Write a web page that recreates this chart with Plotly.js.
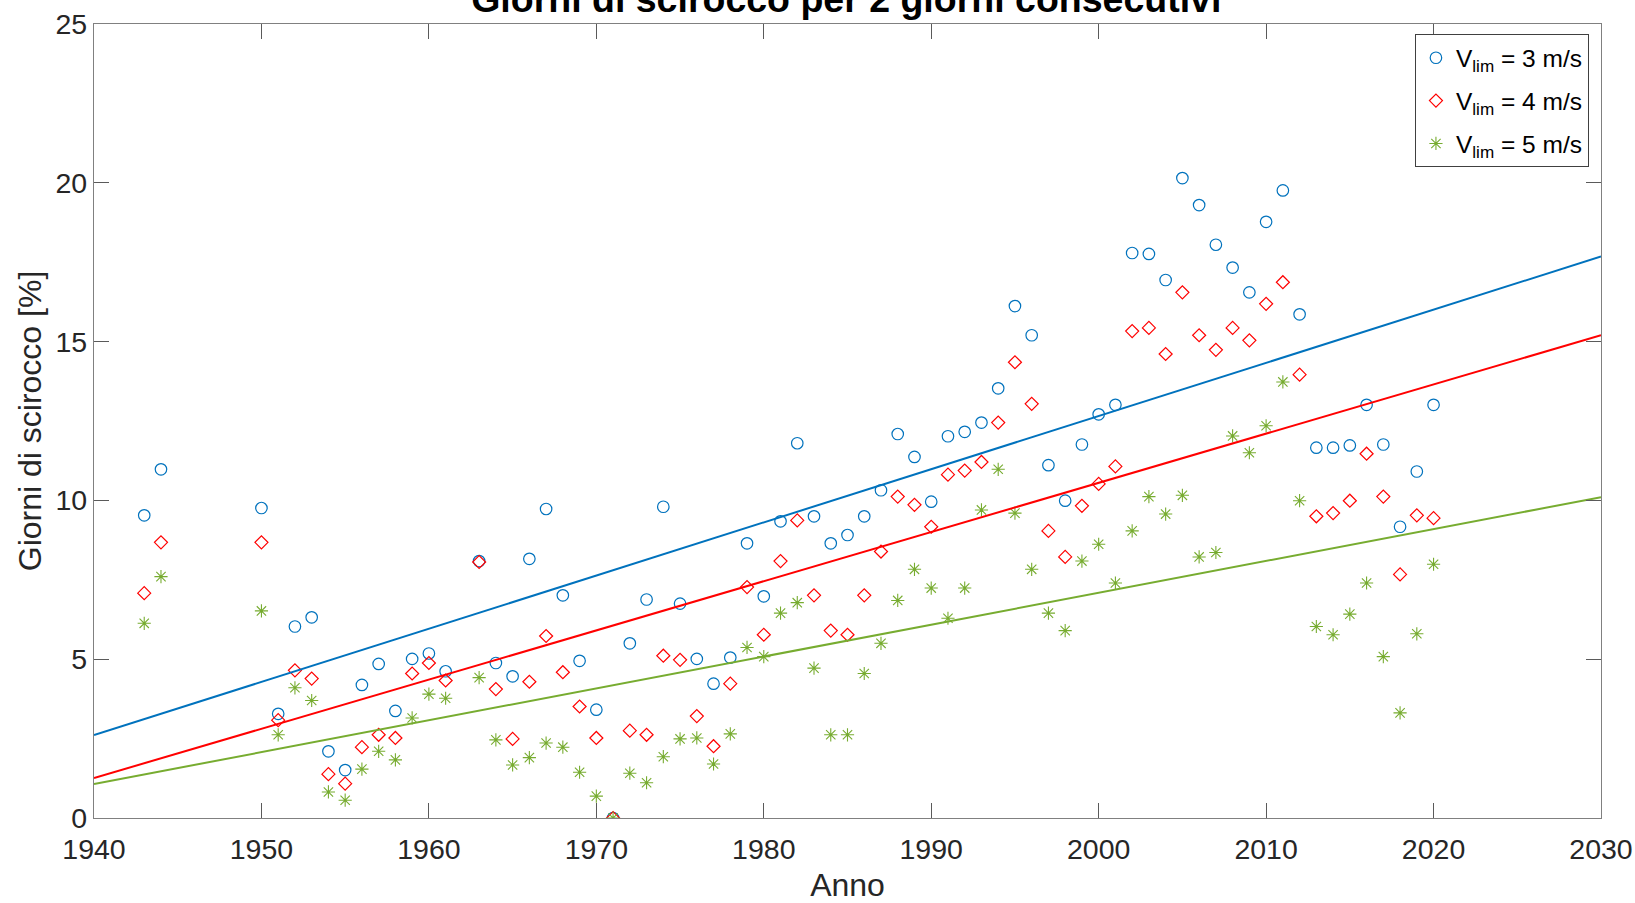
<!DOCTYPE html>
<html>
<head>
<meta charset="utf-8">
<script src="https://cdn.plot.ly/plotly-3.0.1.min.js"></script>
<style>
  html, body { margin: 0; padding: 0; background: #ffffff; }
  #chart { width: 1635px; height: 903px; }
</style>
</head>
<body>
<div id="chart"></div>
<script>
// Anni di osservazione (1945-1949 e 1962 mancanti)
const years = [1943, 1944,
  1950, 1951, 1952, 1953, 1954, 1955, 1956, 1957, 1958, 1959, 1960, 1961,
  1963, 1964, 1965, 1966, 1967, 1968, 1969, 1970, 1971, 1972, 1973, 1974,
  1975, 1976, 1977, 1978, 1979, 1980, 1981, 1982, 1983, 1984, 1985, 1986,
  1987, 1988, 1989, 1990, 1991, 1992, 1993, 1994, 1995, 1996, 1997, 1998,
  1999, 2000, 2001, 2002, 2003, 2004, 2005, 2006, 2007, 2008, 2009, 2010,
  2011, 2012, 2013, 2014, 2015, 2016, 2017, 2018, 2019, 2020];

// Giorni di scirocco [%] per soglia di velocità
const vlim3 = [9.53, 10.98,
  9.76, 3.28, 6.03, 6.32, 2.10, 1.51, 4.19, 4.85, 3.37, 5.01, 5.18, 4.62,
  8.09, 4.88, 4.46, 8.16, 9.73, 7.01, 4.95, 3.41, 0.00, 5.50, 6.88, 9.80,
  6.75, 5.01, 4.23, 5.05, 8.65, 6.98, 9.34, 11.80, 9.50, 8.65, 8.91, 9.50,
  10.32, 12.09, 11.37, 9.96, 12.02, 12.16, 12.45, 13.53, 16.12, 15.20, 11.11, 9.99,
  11.76, 12.71, 13.01, 17.79, 17.76, 16.94, 20.15, 19.30, 18.05, 17.33, 16.55, 18.77,
  19.76, 15.86, 11.66, 11.66, 11.73, 13.01, 11.76, 9.17, 10.91, 13.01];

const vlim4 = [7.08, 8.68,
  8.68, 3.08, 4.65, 4.39, 1.38, 1.08, 2.23, 2.62, 2.52, 4.55, 4.88, 4.33,
  8.06, 4.06, 2.49, 4.29, 5.73, 4.59, 3.51, 2.52, 0.00, 2.75, 2.62, 5.11,
  4.98, 3.21, 2.26, 4.23, 7.27, 5.77, 8.09, 9.37, 7.01, 5.90, 5.77, 7.01,
  8.39, 10.12, 9.86, 9.17, 10.81, 10.94, 11.21, 12.45, 14.35, 13.04, 9.04, 8.22,
  9.83, 10.52, 11.07, 15.33, 15.43, 14.61, 16.55, 15.20, 14.74, 15.43, 15.04, 16.19,
  16.87, 13.96, 9.50, 9.60, 9.99, 11.47, 10.12, 7.67, 9.53, 9.44];

const vlim5 = [6.13, 7.60,
  6.52, 2.62, 4.10, 3.70, 0.82, 0.56, 1.54, 2.10, 1.83, 3.15, 3.90, 3.77,
  4.42, 2.46, 1.67, 1.90, 2.36, 2.23, 1.44, 0.69, 0.00, 1.41, 1.11, 1.93,
  2.49, 2.52, 1.70, 2.65, 5.37, 5.08, 6.45, 6.78, 4.72, 2.62, 2.62, 4.55,
  5.50, 6.85, 7.83, 7.24, 6.29, 7.24, 9.70, 10.98, 9.60, 7.83, 6.45, 5.90,
  8.09, 8.62, 7.40, 9.04, 10.12, 9.57, 10.16, 8.22, 8.36, 12.03, 11.50, 12.35,
  13.73, 9.99, 6.03, 5.77, 6.42, 7.40, 5.08, 3.31, 5.80, 7.99];

// Rette di tendenza (valori agli estremi dell'asse)
const trendYears = [1940, 2030];
const trend3 = [2.61, 17.68];
const trend4 = [1.26, 15.20];
const trend5 = [1.07, 10.10];

const xTicks = [1940, 1950, 1960, 1970, 1980, 1990, 2000, 2010, 2020, 2030];
const yTicks = [0, 5, 10, 15, 20, 25];

const BLUE = '#0072BD', RED = '#FF0000', GREEN = '#77AC30';
const FONT = 'Liberation Sans, Arial, Helvetica, sans-serif';

const traces = [
  { x: years, y: vlim3, type: 'scatter', mode: 'markers', name: 'V<sub>lim</sub> = 3 m/s',
    legendgroup: 'a',
    marker: { symbol: 'circle-open', size: 11.5, color: BLUE, line: { width: 1.2, color: BLUE } } },
  { x: years, y: vlim4, type: 'scatter', mode: 'markers', name: 'V<sub>lim</sub> = 4 m/s',
    legendgroup: 'b',
    marker: { symbol: 'diamond-open', size: 10, color: RED, line: { width: 1.2, color: RED } } },
  { x: years, y: vlim5, type: 'scatter', mode: 'markers', name: 'V<sub>lim</sub> = 5 m/s',
    legendgroup: 'c',
    marker: { symbol: 'asterisk-open', size: 11, color: GREEN, line: { width: 1.1, color: GREEN } } },
  { x: trendYears, y: trend3, type: 'scatter', mode: 'lines', showlegend: false,
    line: { color: BLUE, width: 2 }, hoverinfo: 'skip' },
  { x: trendYears, y: trend4, type: 'scatter', mode: 'lines', showlegend: false,
    line: { color: RED, width: 2 }, hoverinfo: 'skip' },
  { x: trendYears, y: trend5, type: 'scatter', mode: 'lines', showlegend: false,
    line: { color: GREEN, width: 2 }, hoverinfo: 'skip' }
];

const axisCommon = {
  showgrid: false,
  zeroline: false,
  showline: true,
  linecolor: '#808080',
  linewidth: 1.2,
  mirror: 'allticks',
  ticks: 'inside',
  ticklen: 15,
  tickwidth: 1,
  tickcolor: '#5a5a5a',
  tickfont: { family: FONT, size: 28.5, color: '#262626' }
};

const layout = {
  width: 1635,
  height: 903,
  paper_bgcolor: '#ffffff',
  plot_bgcolor: '#ffffff',
  margin: { l: 94, r: 34, t: 24, b: 85, autoexpand: false },
  font: { family: FONT, color: '#262626' },
  title: {
    text: '<b>Giorni di scirocco per 2 giorni consecutivi</b>',
    font: { family: FONT, size: 37.5, color: '#000000' },
    x: 0.5176, xref: 'container', xanchor: 'center',
    y: 0.9867, yref: 'container', yanchor: 'bottom'
  },
  xaxis: Object.assign({}, axisCommon, {
    range: [1940, 2030],
    tickvals: xTicks,
    ticktext: xTicks.map(String),
    ticklabelstandoff: 6,
    title: { text: 'Anno', font: { family: FONT, size: 32, color: '#262626' }, standoff: 14 }
  }),
  yaxis: Object.assign({}, axisCommon, {
    range: [0, 25],
    tickvals: yTicks,
    ticktext: yTicks.map(String),
    title: { text: 'Giorni di scirocco [%]', font: { family: FONT, size: 32, color: '#262626' }, standoff: 4 }
  }),
  showlegend: true,
  legend: {
    x: 0.992, xanchor: 'right',
    y: 0.987, yanchor: 'top',
    bgcolor: '#ffffff',
    bordercolor: '#404040',
    borderwidth: 1,
    font: { family: FONT, size: 24.5, color: '#000000' },
    tracegroupgap: 8,
    itemwidth: 30
  }
};

Plotly.newPlot('chart', traces, layout, { staticPlot: true, displayModeBar: false });
</script>
</body>
</html>
